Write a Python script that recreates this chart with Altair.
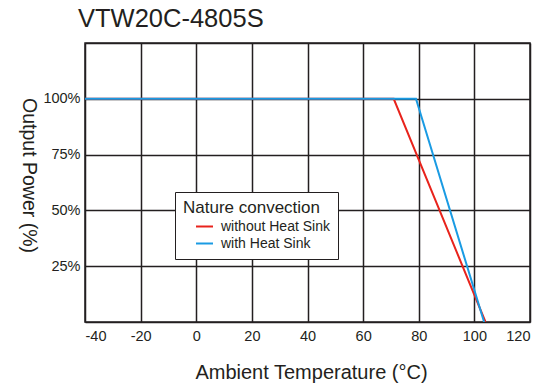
import altair as alt
import pandas as pd

series_names = ["without Heat Sink", "with Heat Sink"]
series_colors = ["#e8231c", "#1a9be3"]
temp_without = [-40, 71, 104]
power_without = [100, 100, 0]
temp_with = [-40, 79, 103.5]
power_with = [100, 100, 0]
x_ticks = [-40, -20, 0, 20, 40, 60, 80, 100, 120]
y_ticks = [0, 25, 50, 75, 100, 125]

rows = []
for i, (t, p) in enumerate(zip(temp_without, power_without)):
    rows.append({"series": series_names[0], "temp": t, "power": p, "ord": i})
for i, (t, p) in enumerate(zip(temp_with, power_with)):
    rows.append({"series": series_names[1], "temp": t, "power": p, "ord": i})
df = pd.DataFrame(rows)

font = "Liberation Sans"
ink = "#231f20"

chart = alt.Chart(df).mark_line(strokeWidth=2, clip=True).encode(
    x=alt.X("temp:Q", scale=alt.Scale(domain=[-40, 120], nice=False, zero=False),
            axis=alt.Axis(values=x_ticks, title="Ambient Temperature (°C)",
                          labelExpr="'' + datum.value",
                          grid=True, gridColor=ink, gridOpacity=1, gridWidth=1.5,
                          ticks=False, domain=False, labelPadding=7,
                          labelFontSize=14.5, labelColor=ink, labelFont=font,
                          titleFont=font, titleFontSize=20, titleFontWeight="normal",
                          titleColor=ink, titleX=226, titleY=56,
                          titleAlign="center", titleBaseline="alphabetic")),
    y=alt.Y("power:Q", scale=alt.Scale(domain=[0, 125], nice=False),
            axis=alt.Axis(values=y_ticks, title="Output Power (%)",
                          labelExpr="datum.value == 0 || datum.value == 125 ? '' : datum.value + '%'",
                          grid=True, gridColor=ink, gridOpacity=1, gridWidth=1.5,
                          ticks=False, domain=False, labelPadding=5,
                          labelFontSize=14.5, labelColor=ink, labelFont=font,
                          titleFont=font, titleFontSize=19.5, titleFontWeight="normal",
                          titleColor=ink, titleAngle=90, titleX=-62.5, titleY=132,
                          titleAlign="center", titleBaseline="alphabetic")),
    color=alt.Color("series:N", scale=alt.Scale(domain=series_names, range=series_colors),
                    legend=alt.Legend(title="Nature convection", orient="none",
                                      legendX=90, legendY=149,
                                      symbolType="stroke", symbolStrokeWidth=2, symbolSize=289,
                                      symbolOffset=12, labelOffset=7,
                                      titleFont=font, titleFontSize=17, titleFontWeight="normal",
                                      titleColor=ink, titlePadding=0, labelFont=font, labelFontSize=14,
                                      labelColor=ink, fillColor="white",
                                      strokeColor=ink, padding=8, rowPadding=0)),
    order="ord:Q",
).properties(
    width=445, height=279,
    title=alt.TitleParams("VTW20C-4805S", anchor="start", frame="group", fontSize=25.5,
                          font=font, fontWeight="normal", color=ink, dx=-7, offset=11),
    autosize=alt.AutoSizeParams(type="none"),
    padding={"left": 77, "top": 35, "right": 16, "bottom": 63},
).configure_view(stroke=ink, strokeWidth=1.5)

chart.save("out.html", embed_options={"renderer": "svg", "actions": False})
